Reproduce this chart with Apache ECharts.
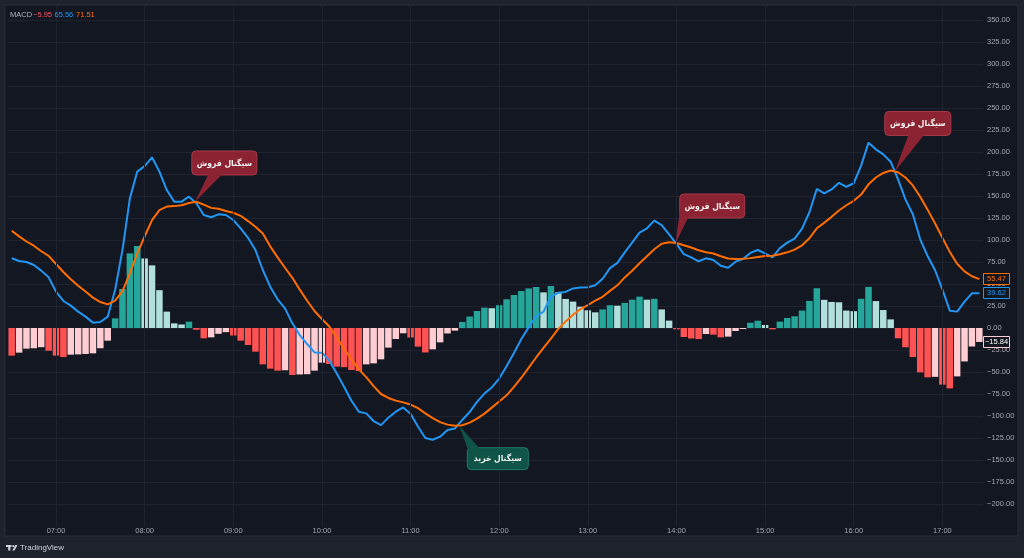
<!DOCTYPE html>
<html><head><meta charset="utf-8">
<script src="https://cdn.jsdelivr.net/npm/echarts@6/dist/echarts.min.js"></script>
<style>html,body{margin:0;padding:0;background:#1e222d;}#c{width:1024px;height:558px;}</style>
</head><body><div id="c"></div>
<script>
// ---- data ----
const categories = [];
for (let m = 6 * 60 + 30; m <= 17 * 60 + 25; m += 5) {
  categories.push(String(Math.floor(m / 60)).padStart(2, '0') + ':' + String(m % 60).padStart(2, '0'));
}
const macd = [
  79.2, 76.1, 75.0, 71.6, 65.2, 57.6, 41.3, 30.7, 25.4, 18.6,
  12.9, 6.1, 6.8, 12.9, 43.2, 88.6, 147.3, 177.7, 184.0, 194.0,
  177.7, 156.8, 143.6, 143.6, 149.2, 141.7, 128.4, 125.8, 129.2, 128.4,
  122.7, 113.3, 102.5, 88.6, 65.9, 47.0, 32.6, 22.3, 5.3, -8.0,
  -18.2, -27.7, -28.0, -37.1, -51.5, -66.7, -82.6, -95.1, -97.0, -105.7,
  -110.4, -101.9, -95.1, -90.3, -97.5, -112.0, -125.0, -127.0, -123.5, -116.0,
  -114.3, -104.5, -95.5, -84.0, -74.5, -67.5, -57.5, -43.5, -28.5, -12.5,
  1.0, 13.3, 18.5, 35.8, 40.0, 41.0, 45.0, 46.0, 46.3, 48.5,
  56.0, 68.0, 74.0, 86.0, 97.0, 108.3, 113.3, 122.0, 117.0, 106.4,
  95.5, 84.0, 80.3, 75.8, 79.2, 77.3, 70.8, 68.5, 75.4, 78.4,
  85.3, 88.6, 84.8, 80.3, 90.8, 97.0, 101.5, 113.0, 131.5, 158.0,
  153.0, 157.5, 165.0, 160.5, 164.5, 184.5, 210.6, 203.0, 197.3, 189.0,
  169.0, 146.2, 129.2, 100.8, 81.8, 65.9, 44.0, 19.7, 18.6, 29.9,
  39.4, 39.62
];
const signal = [
  110.6, 104.1, 98.3, 93.5, 87.2, 82.0, 72.7, 63.7, 55.5, 48.0,
  41.5, 34.5, 29.5, 26.8, 31.0, 42.0, 62.0, 84.7, 104.0, 122.5,
  134.0, 138.0, 138.5, 139.5, 142.0, 143.5, 140.2, 136.5, 135.5, 133.0,
  131.0, 127.5, 121.5, 115.0, 107.3, 92.8, 80.3, 68.5, 57.0, 43.6,
  31.0, 19.3, 10.2, 1.7, -10.6, -23.9, -35.7, -47.0, -55.8, -66.1,
  -75.0, -79.5, -82.5, -84.5, -87.0, -91.0, -97.0, -102.5, -107.0, -109.8,
  -111.0, -110.5, -107.5, -103.0, -97.3, -90.5, -83.5, -76.5, -67.0, -56.5,
  -45.0, -33.5, -22.5, -12.0, -1.0, 7.5, 15.0, 21.5, 26.0, 31.0,
  35.5, 42.2, 48.5, 57.5, 65.0, 73.5, 81.5, 89.5, 95.8, 97.5,
  96.5, 94.0, 91.5, 88.4, 86.0, 84.6, 81.5, 79.0, 78.4, 78.6,
  79.4, 80.8, 81.8, 82.0, 83.8, 86.0, 89.0, 94.0, 102.0, 113.3,
  119.5, 126.3, 133.5, 139.5, 144.5, 151.6, 163.3, 171.0, 176.2, 179.0,
  177.0, 171.0, 162.0, 149.2, 134.5, 119.0, 102.5, 86.5, 73.0, 64.3,
  58.8, 55.47
];
const hist = [
  -31.4, -28.0, -23.5, -23.0, -21.8, -25.8, -31.4, -33.0, -30.3, -30.0,
  -29.5, -28.8, -23.0, -14.4, 11.0, 44.3, 84.8, 93.2, 79.0, 71.2,
  43.0, 18.6, 5.3, 4.0, 7.2, -2.0, -11.7, -10.6, -6.6, -4.7,
  -8.5, -14.4, -19.3, -26.9, -41.3, -46.2, -48.5, -48.0, -53.4, -52.8,
  -52.5, -48.5, -39.4, -40.9, -43.9, -44.5, -47.7, -48.9, -41.3, -40.2,
  -35.6, -22.3, -12.5, -6.0, -10.8, -21.2, -27.8, -24.2, -16.3, -6.2,
  -3.0, 6.8, 13.0, 19.3, 23.1, 22.5, 26.0, 32.6, 37.5, 42.0,
  45.0, 46.6, 40.5, 47.7, 40.5, 33.0, 30.0, 24.2, 20.1, 17.8,
  21.1, 25.9, 25.4, 28.5, 32.2, 35.6, 32.2, 33.2, 21.1, 8.4,
  -1.5, -10.2, -11.9, -12.6, -6.8, -7.6, -10.6, -9.8, -3.4, -1.1,
  6.0, 8.3, 3.4, -1.5, 7.2, 11.4, 13.3, 19.8, 30.8, 45.2,
  32.0, 29.6, 29.2, 19.8, 19.1, 33.2, 46.7, 30.6, 20.4, 9.8,
  -11.7, -21.9, -33.0, -50.4, -56.0, -55.5, -64.4, -68.6, -55.0, -38.0,
  -21.0, -15.84
];
const legendName = 'MACD';
const legendValues = ['\u22125.95', '65.56', '71.51'];
const signalTexts = ['سیگنال فروش', 'سیگنال فروش', 'سیگنال فروش', 'سیگنال خرید'];
const signalAt = [[24.8, 143.2], [89.9, 96.6], [119.56, 177.9], [60.6, -111]];
const signalKind = ['sell', 'sell', 'sell', 'buy'];

// ---- styles ----
const C = {
  bg: '#131722', frame: '#1e222d', grid: '#1f2330', text: '#a3a6af',
  blue: '#2196f3', orange: '#ff6d00',
  up: '#26a69a', upFade: '#b2dfdb', dn: '#ff5252', dnFade: '#ffcdd2'
};
const SMALL = '7.5px "Liberation Sans"';
const fmt = v => (v < 0 ? '\u2212' : '') + Math.abs(v).toFixed(2);

const barData = hist.map((v, i) => {
  const p = i > 0 ? hist[i - 1] : v;
  let c;
  if (v >= 0) c = v >= p ? C.up : C.upFade;
  else c = (v < p || i === 0) ? C.dn : C.dnFade;
  return { value: v, itemStyle: { color: c } };
});
const hourCats = categories.filter(c => c.endsWith(':00'));

const chart = echarts.init(document.getElementById('c'), null, { renderer: 'canvas' });
chart.setOption({
  animation: false,
  backgroundColor: C.frame,
  grid: { left: 8, right: 41, top: -2, height: 528, outerBoundsMode: 'none' },
  xAxis: {
    type: 'category', data: categories, boundaryGap: true,
    axisLine: { show: false }, axisTick: { show: false }, splitLine: { show: false },
    axisLabel: {
      interval: (i, v) => v.endsWith(':00'), color: C.text, fontSize: 7.5,
      fontFamily: 'Liberation Sans', margin: 0, verticalAlign: 'top', lineHeight: 9
    }
  },
  yAxis: {
    type: 'value', position: 'right', min: -225, max: 375, interval: 25,
    axisLine: { show: false }, axisTick: { show: false },
    splitLine: { show: true, showMinLine: false, showMaxLine: false, lineStyle: { color: C.grid, width: 1 } },
    axisLabel: {
      showMinLabel: false, showMaxLabel: false, formatter: fmt, color: C.text,
      fontSize: 7.5, fontFamily: 'Liberation Sans', margin: 4
    }
  },
  series: [
    {
      type: 'line', data: categories.map(() => null), z: 1, silent: true,
      markLine: {
        silent: true, symbol: 'none', label: { show: false },
        lineStyle: { color: C.grid, width: 1, type: 'solid' },
        data: hourCats.map(c => ({ xAxis: c }))
      }
    },
    { type: 'bar', data: barData, barWidth: '88%', z: 2, silent: true },
    {
      type: 'line', data: macd, z: 3, symbol: 'none', silent: true,
      lineStyle: { color: C.blue, width: 2 }
    },
    {
      type: 'line', data: signal, z: 4, symbol: 'none', silent: true,
      lineStyle: { color: C.orange, width: 2 }
    }
  ]
});

function px(at) {
  const i0 = Math.floor(at[0]), f = at[0] - i0;
  const a = chart.convertToPixel({ gridIndex: 0 }, [i0, at[1]]);
  const b = chart.convertToPixel({ gridIndex: 0 }, [i0 + 1, at[1]]);
  return [a[0] + (b[0] - a[0]) * f, a[1]];
}

const callLayout = [
  { dx: -3, dy: -51, w: 65, h: 24, p1: [17, 24], p2: [31, 24] },
  { dx: 4, dy: -49, w: 65, h: 24, p1: [0, 15], p2: [9, 24] },
  { dx: -10, dy: -60, w: 66, h: 24, p1: [24, 24], p2: [40, 24] },
  { dx: 8, dy: 22, w: 61, h: 22, p1: [0, 0], p2: [13, 0] }
];
const kindStyle = {
  sell: { fill: '#8c2332', stroke: '#a83a4a' },
  buy: { fill: '#0f5446', stroke: '#1f7a66' }
};

const g = [];
g.push({ type: 'rect', z: -10, silent: true, shape: { x: 5, y: 5, width: 1013, height: 531 },
  style: { fill: C.bg, stroke: '#2a2e39', lineWidth: 1 } });

signalTexts.forEach((t, k) => {
  const tip = px(signalAt[k]);
  const L = callLayout[k];
  const s = kindStyle[signalKind[k]];
  const bx = tip[0] + L.dx, by = tip[1] + L.dy;
  g.push({ type: 'rect', z: 50, silent: true, shape: { x: bx, y: by, width: L.w, height: L.h, r: 4 },
    style: { fill: s.fill, stroke: s.stroke, lineWidth: 1 } });
  const inset = L.p1[1] === 0 ? 1.5 : -1.5;
  g.push({ type: 'polygon', z: 51, silent: true,
    shape: { points: [[bx + L.p1[0] + (L.p1[0] === 0 ? 0.5 : 0), by + L.p1[1] + inset], [bx + L.p2[0], by + L.p2[1] + inset], tip] },
    style: { fill: s.fill } });
  g.push({ type: 'text', z: 52, silent: true, x: bx + L.w / 2, y: by + L.h / 2 + 0.5,
    style: { text: t, fill: '#f2f2f2', font: 'bold 8.5px "DejaVu Sans Condensed", "DejaVu Sans"', align: 'center', verticalAlign: 'middle' } });
});

const tags = [
  [signal[signal.length - 1], C.orange, C.orange],
  [macd[macd.length - 1], C.blue, C.blue],
  [hist[hist.length - 1], C.dnFade, '#ffffff']
];
tags.forEach(([v, border, tc]) => {
  const y = chart.convertToPixel({ yAxisIndex: 0 }, v);
  g.push({ type: 'rect', z: 60, silent: true, shape: { x: 983.5, y: Math.round(y) - 5.5, width: 26, height: 11 },
    style: { fill: C.bg, stroke: border, lineWidth: 1 } });
  g.push({ type: 'text', z: 61, silent: true, x: 996.5, y: Math.round(y),
    style: { text: fmt(v), fill: tc, font: SMALL, align: 'center', verticalAlign: 'middle' } });
});

const legendCols = ['#b2b5be', '#f7525f', C.blue, C.orange];
const legendX = [10, 33, 54.5, 76];
[legendName].concat(legendValues).forEach((t, k) => {
  g.push({ type: 'text', z: 60, silent: true, x: legendX[k], y: 15,
    style: { text: t, fill: legendCols[k], font: SMALL, verticalAlign: 'middle' } });
});

g.push({ type: 'group', silent: true, x: 6, y: 545, children: [
  { type: 'rect', shape: { x: 0, y: 0, width: 5.5, height: 2 }, style: { fill: '#d1d4dc' } },
  { type: 'rect', shape: { x: 2.2, y: 0, width: 2.2, height: 5.5 }, style: { fill: '#d1d4dc' } },
  { type: 'circle', shape: { cx: 7.3, cy: 1.1, r: 1.1 }, style: { fill: '#d1d4dc' } },
  { type: 'polygon', shape: { points: [[6.3, 5.5], [9.3, 0], [11.5, 0], [8.5, 5.5]] }, style: { fill: '#d1d4dc' } },
  { type: 'text', x: 14, y: 3, style: { text: 'TradingView', fill: '#d1d4dc', font: '8px "Liberation Sans"', verticalAlign: 'middle' } }
] });

chart.setOption({ graphic: { elements: g } });
</script></body></html>
